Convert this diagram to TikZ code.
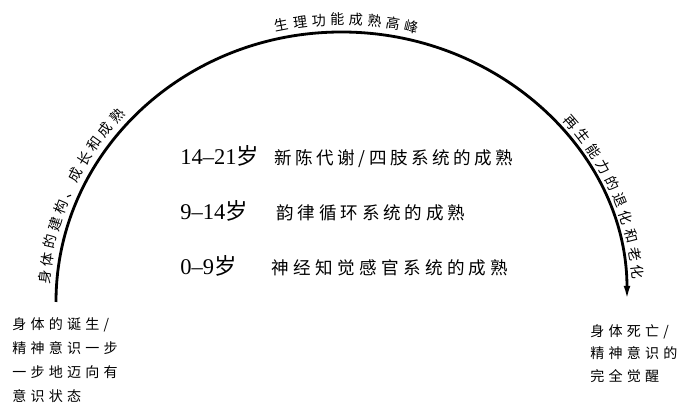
\documentclass[tikz,border=0pt]{standalone}
\usepackage{fontspec}
\setmainfont{Liberation Serif}
\newfontfamily\cjk{Noto Sans CJK SC}
\usetikzlibrary{arrows.meta,decorations.text}

\tikzset{
  lifearc/.style={line width=2pt, -{Latex[length=4mm,width=1.6mm]}},
  arclabel/.style={decorate, decoration={text along path, text align=fit to path,
    raise=0.18cm, text={|\cjk\fontsize{10}{12}\selectfont|#1}}},
  agelabel/.style={anchor=base west, inner sep=0, font=\fontsize{16}{18}\selectfont},
  syslabel/.style={anchor=base west, inner sep=0, font=\cjk\fontsize{12.5}{15}\selectfont},
  endlabel/.style={anchor=north west, inner sep=0, align=left}
}

\begin{document}
\begin{tikzpicture}
\useasboundingbox (0,0) rectangle (16.975,10.225);
\def\rx{7.1375}
\def\ry{6.75}
\coordinate (mid) at (8.5375,2.675);
\coordinate (birth) at (1.4,2.675);
\coordinate (death) at (15.675,2.675);

\draw[lifearc] (birth) arc[start angle=180, end angle=0, x radius=\rx, y radius=\ry];

% texts along the arc
\path[shift={(mid)}, arclabel={身体的建构、成长和成熟}] (176.5:\rx cm and \ry cm)
  arc[start angle=176.5, end angle=137.5, x radius=\rx, y radius=\ry];
\path[shift={(mid)}, arclabel={生理功能成熟高峰}] (103:\rx cm and \ry cm)
  arc[start angle=103, end angle=75, x radius=\rx, y radius=\ry];
\path[shift={(mid)}, arclabel={再生能力的退化和老化}] (41:\rx cm and \ry cm)
  arc[start angle=41, end angle=4.5, x radius=\rx, y radius=\ry];

% stages
\node[agelabel] (age3) at (4.5,6.1) {14–21{\cjk 岁}};
\node[agelabel] (age2) at (4.5,4.725) {9–14{\cjk 岁}};
\node[agelabel] (age1) at (4.5,3.35) {0–9{\cjk 岁}};
\node[syslabel] (sys3) at (6.85,6.1) {\addfontfeature{LetterSpace=20}新陈代谢/四肢系统的成熟};
\node[syslabel] (sys2) at (6.9,4.725) {\addfontfeature{LetterSpace=22}韵律循环系统的成熟};
\node[syslabel] (sys1) at (6.775,3.35) {\addfontfeature{LetterSpace=25}神经知觉感官系统的成熟};

% ends
\node[endlabel, font=\cjk\fontsize{10}{17.2}\selectfont\addfontfeature{LetterSpace=30}] (birthtext) at (0.3,2.3)
  {身体的诞生/\\精神意识一步\\一步地迈向有\\意识状态};
\node[endlabel, font=\cjk\fontsize{10}{16}\selectfont\addfontfeature{LetterSpace=30}] (deathtext) at (14.75,2.125)
  {身体死亡/\\精神意识的\\完全觉醒};
\end{tikzpicture}
\end{document}
